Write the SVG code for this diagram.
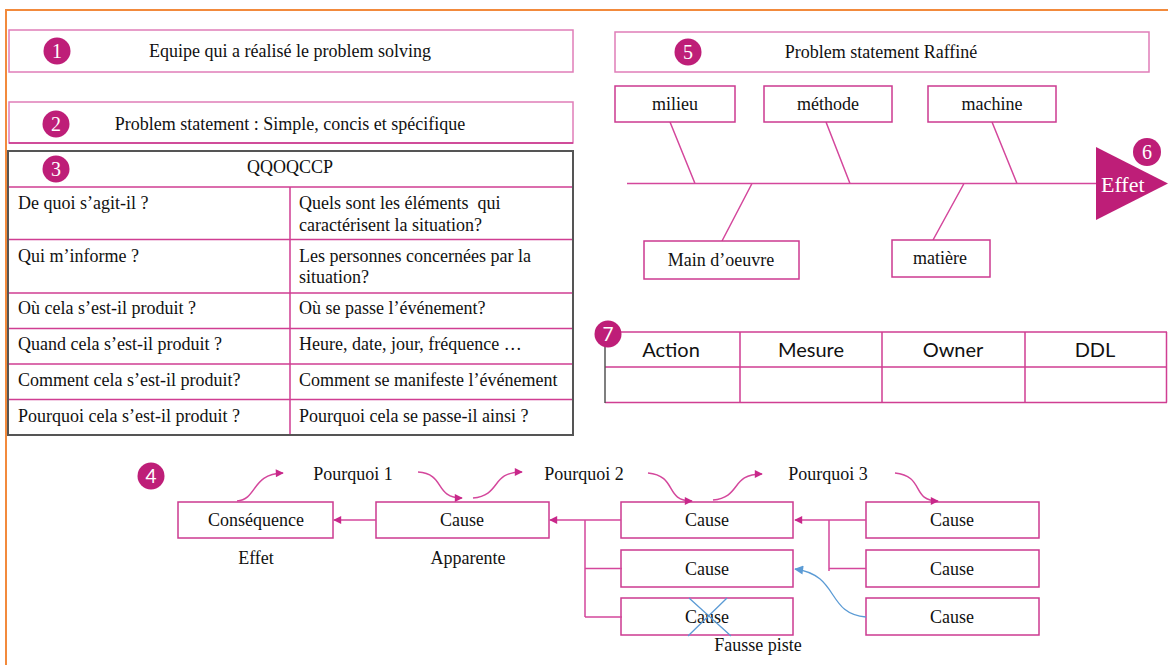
<svg xmlns="http://www.w3.org/2000/svg" width="1168" height="665" viewBox="0 0 1168 665">
  <style>
    .t { font-family: "Liberation Serif", "Times New Roman", serif; font-size: 18px; fill: #111; }
    .mid { text-anchor: middle; }
    .num { font-family: "Liberation Serif", serif; font-size: 20px; fill: #fff; text-anchor: middle; }
    .nums { font-family: "Lato", "Liberation Sans", sans-serif; font-size: 19px; fill: #fff; text-anchor: middle; }
    .hdr { font-family: "Lato", "Open Sans", "Liberation Sans", sans-serif; font-size: 20px; fill: #111; text-anchor: middle; }
    .box { fill: #fff; stroke: #CC3A90; stroke-width: 1.5; }
    .lbox { fill: #fff; stroke: #E07DB8; stroke-width: 1.5; }
    .badge { fill: #BE1E78; }
    .pk { stroke: #D4479C; stroke-width: 1.5; fill: none; }
    .grid { stroke: #D03E92; stroke-width: 1.5; fill: none; }
    .blue { stroke: #5B9BD5; stroke-width: 1.3; fill: none; }
  </style>
  <defs>
    <marker id="ah" viewBox="0 0 10 10" refX="9" refY="5" markerWidth="10" markerHeight="8" markerUnits="userSpaceOnUse" orient="auto">
      <path d="M0,0 L10,5 L0,10 z" fill="#C8288A"/>
    </marker>
    <marker id="ahb" viewBox="0 0 10 10" refX="9" refY="5" markerWidth="11" markerHeight="9" markerUnits="userSpaceOnUse" orient="auto">
      <path d="M0,0 L10,5 L0,10 z" fill="#5B9BD5"/>
    </marker>
  </defs>

  <rect width="1168" height="665" fill="#fff"/>
  <!-- page frame -->
  <path d="M6,665 V10 H1168" fill="none" stroke="#F28A3C" stroke-width="2"/>

  <!-- 1: team -->
  <g id="team">
    <rect class="lbox" x="9" y="30" width="564" height="42"/>
    <circle class="badge" cx="57" cy="51" r="13.5"/>
    <text class="num" x="57" y="58">1</text>
    <text class="t mid" x="290" y="57">Equipe qui a réalisé le problem solving</text>
  </g>

  <!-- 2: problem statement -->
  <g id="statement">
    <rect class="lbox" x="9" y="102" width="564" height="41"/>
    <line x1="9" y1="143" x2="573" y2="143" stroke="#C8328A" stroke-width="1.5"/>
    <circle class="badge" cx="56" cy="124" r="13.5"/>
    <text class="num" x="56" y="131">2</text>
    <text class="t mid" x="290" y="130">Problem statement : Simple, concis et spécifique</text>
  </g>

  <!-- 3: QQOQCCP grid -->
  <g id="qqoqccp">
    <rect x="8" y="151" width="565" height="284" fill="#fff" stroke="#555" stroke-width="2"/>
    <path class="grid" d="M9,187 H572 M9,239.5 H572 M9,293 H572 M9,328.5 H572 M9,364 H572 M9,399.5 H572 M290,187 V434"/>
    <circle class="badge" cx="56" cy="169" r="13.5"/>
    <text class="num" x="56" y="176">3</text>
    <text class="t mid" x="290" y="173">QQOQCCP</text>
    <text class="t" x="18" y="209">De quoi s’agit-il ?</text>
    <text class="t" x="299" y="209" xml:space="preserve">Quels sont les éléments  qui</text>
    <text class="t" x="299" y="231">caractérisent la situation?</text>
    <text class="t" x="18" y="262">Qui m’informe ?</text>
    <text class="t" x="299" y="262">Les personnes concernées par la</text>
    <text class="t" x="299" y="283">situation?</text>
    <text class="t" x="18" y="314">Où cela s’est-il produit ?</text>
    <text class="t" x="299" y="314">Où se passe l’événement?</text>
    <text class="t" x="18" y="350">Quand cela s’est-il produit ?</text>
    <text class="t" x="299" y="350">Heure, date, jour, fréquence …</text>
    <text class="t" x="18" y="386">Comment cela s’est-il produit?</text>
    <text class="t" x="299" y="386">Comment se manifeste l’événement</text>
    <text class="t" x="18" y="422">Pourquoi cela s’est-il produit ?</text>
    <text class="t" x="299" y="422">Pourquoi cela se passe-il ainsi ?</text>
  </g>

  <!-- 5: refined statement -->
  <g id="refined">
    <rect class="lbox" x="615" y="32" width="534" height="40"/>
    <circle class="badge" cx="688" cy="52" r="13.5"/>
    <text class="num" x="688" y="59">5</text>
    <text class="t mid" x="881" y="58">Problem statement Raffiné</text>
  </g>

  <!-- 6: fishbone -->
  <g id="fishbone">
    <path class="pk" d="M627,183.5 H1097 M670,122 L695,183.5 M826,122 L850,183.5 M992,122 L1017,183.5 M752,183.5 L722,241 M964,183.5 L933,240"/>
    <rect class="box" x="615" y="86" width="120" height="36"/>
    <text class="t mid" x="675" y="110">milieu</text>
    <rect class="box" x="764" y="86" width="128" height="36"/>
    <text class="t mid" x="828" y="110">méthode</text>
    <rect class="box" x="928" y="86" width="128" height="36"/>
    <text class="t mid" x="992" y="110">machine</text>
    <rect class="box" x="644" y="241" width="155" height="38"/>
    <text class="t mid" x="721" y="266">Main d’oeuvre</text>
    <rect class="box" x="892" y="240" width="98" height="37"/>
    <text class="t mid" x="940" y="264">matière</text>
    <polygon points="1096,147 1168,183.5 1096,220" fill="#BE1E78"/>
    <text x="1101" y="192" font-family="Liberation Serif, serif" font-size="22" fill="#fff">Effet</text>
    <circle class="badge" cx="1147" cy="152" r="14"/>
    <text class="num" x="1147" y="159">6</text>
  </g>

  <!-- 7: action plan -->
  <g id="actions">
    <path class="grid" d="M605,332 H1167 M605,367 H1167 M605,402.5 H1167 M740,332 V402.5 M882,332 V402.5 M1025,332 V402.5 M1166.5,332 V402.5"/>
    <line x1="605" y1="332" x2="605" y2="403" stroke="#555" stroke-width="1.5"/>
    <text class="hdr" x="671" y="357">Action</text>
    <text class="hdr" x="811" y="357">Mesure</text>
    <text class="hdr" x="953" y="357">Owner</text>
    <text class="hdr" x="1095" y="357">DDL</text>
    <circle class="badge" cx="608" cy="334" r="13.5"/>
    <text class="nums" x="608" y="341">7</text>
  </g>

  <!-- 4: five whys -->
  <g id="whys-badge">
    <circle class="badge" cx="151" cy="476" r="13.5"/>
    <text class="nums" x="151" y="483">4</text>
  </g>
  <g id="consequence">
    <rect class="box" x="178" y="502" width="155" height="36"/>
    <text class="t mid" x="256" y="526">Conséquence</text>
    <text class="t mid" x="256" y="564">Effet</text>
  </g>
  <g id="cause-apparent">
    <rect class="box" x="376" y="502" width="173" height="36"/>
    <text class="t mid" x="462" y="526">Cause</text>
    <text class="t mid" x="468" y="564">Apparente</text>
  </g>
  <g id="cause-2a">
    <rect class="box" x="621" y="502" width="172" height="36"/>
    <text class="t mid" x="707" y="526">Cause</text>
  </g>
  <g id="cause-2b">
    <rect class="box" x="621" y="550" width="172" height="37"/>
    <text class="t mid" x="707" y="575">Cause</text>
  </g>
  <g id="cause-2c">
    <rect class="box" x="621" y="598" width="172" height="37"/>
    <text class="t mid" x="707" y="623">Cause</text>
    <path class="blue" d="M689,598 L731,636 M727,598 L688,636"/>
    <text class="t mid" x="758" y="651">Fausse piste</text>
  </g>
  <g id="cause-3a">
    <rect class="box" x="866" y="502" width="173" height="36"/>
    <text class="t mid" x="952" y="526">Cause</text>
  </g>
  <g id="cause-3b">
    <rect class="box" x="866" y="550" width="173" height="37"/>
    <text class="t mid" x="952" y="575">Cause</text>
  </g>
  <g id="cause-3c">
    <rect class="box" x="866" y="598" width="173" height="37"/>
    <text class="t mid" x="952" y="623">Cause</text>
  </g>
  <g id="why-labels">
    <text class="t mid" x="353" y="480">Pourquoi 1</text>
    <text class="t mid" x="584" y="480">Pourquoi 2</text>
    <text class="t mid" x="828" y="480">Pourquoi 3</text>
  </g>

  <g id="connectors">
    <line class="pk" x1="376" y1="520" x2="334" y2="520" marker-end="url(#ah)"/>
    <line class="pk" x1="621" y1="520" x2="550" y2="520" marker-end="url(#ah)"/>
    <path class="pk" d="M585,520 V617 M585,568.5 H622 M585,617 H622"/>
    <line class="pk" x1="866" y1="520" x2="795" y2="520" marker-end="url(#ah)"/>
    <path class="pk" d="M829,520 V571 M829,568.5 H866"/>
    <path class="pk" d="M237,501 C258,499 251,474 283,473" marker-end="url(#ah)"/>
    <path class="pk" d="M418,472 C446,474 434,498 462,498" marker-end="url(#ah)"/>
    <path class="pk" d="M473,498 C502,495 490,472 522,472" marker-end="url(#ah)"/>
    <path class="pk" d="M648,473 C678,476 664,501 692,501" marker-end="url(#ah)"/>
    <path class="pk" d="M713,500 C742,497 730,474 762,474" marker-end="url(#ah)"/>
    <path class="pk" d="M895,473 C925,476 911,501 938,501" marker-end="url(#ah)"/>
    <path class="blue" d="M866,617 C826,614 840,575 795,569" marker-end="url(#ahb)"/>
  </g>
</svg>
